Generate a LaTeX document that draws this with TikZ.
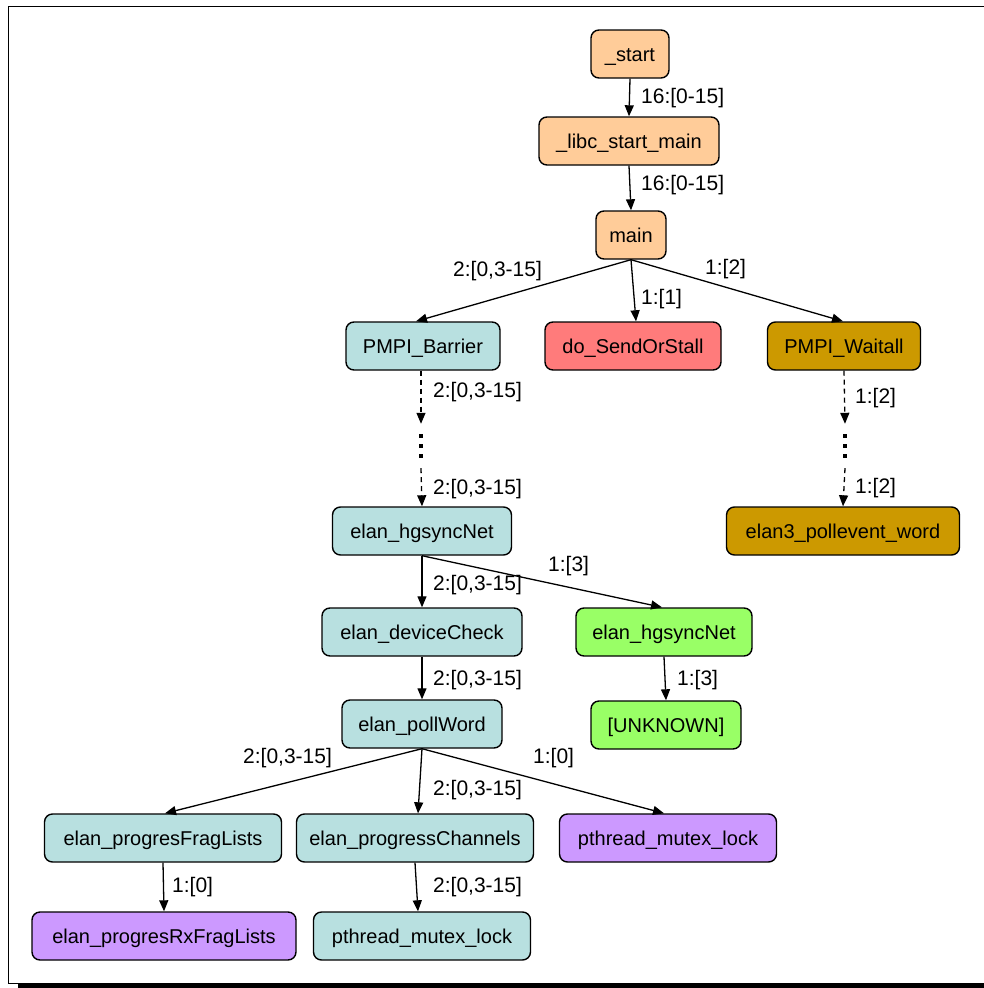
\documentclass[tikz,border=0pt]{standalone}
\usepackage{fontspec}
\setmainfont{Liberation Sans}
\usetikzlibrary{arrows.meta,calc}

\definecolor{cpeach}{HTML}{FFCC99}
\definecolor{cblue}{HTML}{B8E0E0}
\definecolor{cred}{HTML}{FF7B7B}
\definecolor{cgold}{HTML}{CC9900}
\definecolor{cgreen}{HTML}{99FF66}
\definecolor{cpurple}{HTML}{CC99FF}

\tikzset{
  fn/.style={draw=black, line width=1.4pt, rounded corners=8pt,
    minimum height=48pt, inner xsep=10pt, inner ysep=0pt,
    text height=17.5pt, text depth=2pt,
    font=\fontsize{20}{24}\selectfont},
  lbl/.style={anchor=west, inner sep=0pt, font=\fontsize{21}{24}\selectfont},
  call/.style={line width=1.3pt, -{Triangle[length=11pt,width=9pt]}},
  skip/.style={call, dash pattern=on 5pt off 4pt},
  ellip/.style={inner sep=0pt, minimum width=10pt, minimum height=44pt,
    path picture={
      \fill ($(path picture bounding box.center)+(-2pt,-12pt)$) rectangle ++(4pt,4pt);
      \fill ($(path picture bounding box.center)+(-2pt,-2pt)$) rectangle ++(4pt,4pt);
      \fill ($(path picture bounding box.center)+(-2pt,8pt)$) rectangle ++(4pt,4pt);
    }},
}

\begin{document}
\begin{tikzpicture}[x=1pt, y=-1pt]
\clip (0,0) rectangle (984,988);

% page frame with drop shadow
\fill (18,983) rectangle (1010,995);
\fill (995,16) rectangle (1010,995);
\draw[line width=1pt] (8,6) rectangle (995,983);

% call-tree nodes
\node[fn, fill=cpeach, minimum width=78pt]  (start) at (630,54)  {\_start};
\node[fn, fill=cpeach, minimum width=180pt] (libc)  at (629,141) {\_libc\_start\_main};
\node[fn, fill=cpeach, minimum width=70pt]  (main)  at (631,235) {main};

\node[fn, fill=cblue, minimum width=154pt] (barrier) at (423,346) {PMPI\_Barrier};
\node[fn, fill=cred,  minimum width=176pt] (send)    at (633,346) {do\_SendOrStall};
\node[fn, fill=cgold, minimum width=153pt] (waitall) at (844,346) {PMPI\_Waitall};

\node[ellip] (dotsL) at (421,446) {};
\node[ellip] (dotsR) at (845,446) {};

\node[fn, fill=cblue, minimum width=179pt] (hgsync)  at (422,531) {elan\_hgsyncNet};
\node[fn, fill=cgold, minimum width=233pt] (pollev)  at (843,531) {elan3\_pollevent\_word};

\node[fn, fill=cblue,  minimum width=200pt] (devchk)  at (422,632) {elan\_deviceCheck};
\node[fn, fill=cgreen, minimum width=176pt] (hgsyncB) at (664,632) {elan\_hgsyncNet};

\node[fn, fill=cblue,  minimum width=160pt] (pollw)   at (422,724) {elan\_pollWord};
\node[fn, fill=cgreen, minimum width=150pt] (unknown) at (666,725) {[UNKNOWN]};

\node[fn, fill=cblue,   minimum width=237pt] (frag)   at (163,838) {elan\_progresFragLists};
\node[fn, fill=cblue,   minimum width=237pt] (chan)   at (415,838) {elan\_progressChannels};
\node[fn, fill=cpurple, minimum width=217pt] (mutexA) at (668,838) {pthread\_mutex\_lock};

\node[fn, fill=cpurple, minimum width=264pt] (rxfrag) at (164,936) {elan\_progresRxFragLists};
\node[fn, fill=cblue,   minimum width=217pt] (mutexB) at (422,936) {pthread\_mutex\_lock};

% calls
\draw[call] (start.south) -- (libc.north);
\draw[call] (libc.south) -- (main.north);
\draw[call] (main.south) -- ([xshift=-7pt]barrier.north);
\draw[call] (main.south) -- ([xshift=3pt]send.north);
\draw[call] (main.south) -- ([xshift=-1pt]waitall.north);

\draw[skip] ([xshift=-2pt]barrier.south) -- (dotsL.north);
\draw[skip] (dotsL.south) -- (hgsync.north);
\draw[skip] (waitall.south) -- (dotsR.north);
\draw[skip] (dotsR.south) -- (pollev.north);

\draw[call] (hgsync.south) -- (devchk.north);
\draw[call] (hgsync.south) -- ([xshift=-2pt]hgsyncB.north);
\draw[call] (devchk.south) -- (pollw.north);
\draw[call] (hgsyncB.south) -- (unknown.north);

\draw[call] (pollw.south) -- ([xshift=2pt]frag.north);
\draw[call] (pollw.south) -- ([xshift=3pt]chan.north);
\draw[call] (pollw.south) -- ([xshift=-4pt]mutexA.north);
\draw[call] (frag.south) -- (rxfrag.north);
\draw[call] (chan.south) -- ([xshift=-4pt]mutexB.north);

% edge labels: task count and ranks
\node[lbl] (l1)  at (641,98)  {16:[0-15]};
\node[lbl] (l2)  at (641,185) {16:[0-15]};
\node[lbl] (l3)  at (453,271) {2:[0,3-15]};
\node[lbl] (l4)  at (641,299) {1:[1]};
\node[lbl] (l5)  at (705,269) {1:[2]};
\node[lbl] (l6)  at (433,392) {2:[0,3-15]};
\node[lbl] (l7)  at (433,489) {2:[0,3-15]};
\node[lbl] (l8)  at (855,398) {1:[2]};
\node[lbl] (l9)  at (855,488) {1:[2]};
\node[lbl] (l10) at (433,585) {2:[0,3-15]};
\node[lbl] (l11) at (548,566) {1:[3]};
\node[lbl] (l12) at (433,680) {2:[0,3-15]};
\node[lbl] (l13) at (677,680) {1:[3]};
\node[lbl] (l14) at (243,758) {2:[0,3-15]};
\node[lbl] (l15) at (433,790) {2:[0,3-15]};
\node[lbl] (l16) at (533,758) {1:[0]};
\node[lbl] (l17) at (172,887) {1:[0]};
\node[lbl] (l18) at (433,887) {2:[0,3-15]};
\end{tikzpicture}
\end{document}
